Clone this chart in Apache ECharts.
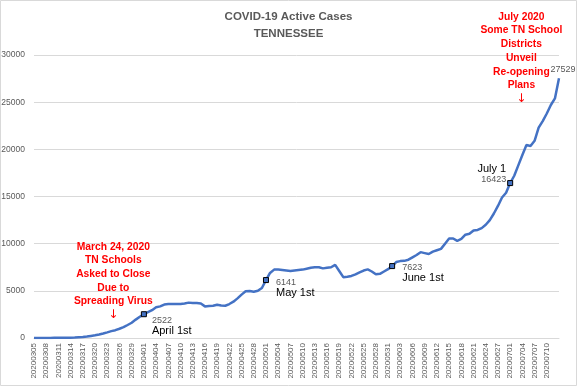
<!DOCTYPE html>
<html>
<head>
<meta charset="utf-8">
<script src="https://cdn.jsdelivr.net/npm/echarts@6/dist/echarts.min.js"></script>
<style>html,body{margin:0;padding:0;background:#fff}#c{width:577px;height:386px}</style>
</head>
<body>
<div id="c"></div>
<script>
const titleLines = ['COVID-19 Active Cases', 'TENNESSEE'];
const dates = [
 '20200305','20200306','20200307','20200308','20200309','20200310','20200311','20200312','20200313','20200314',
 '20200315','20200316','20200317','20200318','20200319','20200320','20200321','20200322','20200323','20200324',
 '20200325','20200326','20200327','20200328','20200329','20200330','20200331',
 '20200401','20200402','20200403','20200404','20200405','20200406','20200407','20200408','20200409','20200410',
 '20200411','20200412','20200413','20200414','20200415','20200416','20200417','20200418','20200419','20200420',
 '20200421','20200422','20200423','20200424','20200425','20200426','20200427','20200428','20200429','20200430',
 '20200501','20200502','20200503','20200504','20200505','20200506','20200507','20200508','20200509','20200510',
 '20200511','20200512','20200513','20200514','20200515','20200516','20200517','20200518','20200519','20200520',
 '20200521','20200522','20200523','20200524','20200525','20200526','20200527','20200528','20200529','20200530','20200531',
 '20200601','20200602','20200603','20200604','20200605','20200606','20200607','20200608','20200609','20200610',
 '20200611','20200612','20200613','20200614','20200615','20200616','20200617','20200618','20200619','20200620',
 '20200621','20200622','20200623','20200624','20200625','20200626','20200627','20200628','20200629',
 '20200701','20200702','20200703','20200704','20200705','20200706','20200707','20200708','20200709','20200710',
 '20200711','20200712','20200713'
];
const activeCases = [
 1,1,3,7,9,18,25,26,32,38,
 51,73,95,150,220,290,380,480,600,730,
 830,980,1150,1380,1620,1950,2250,
 2522,2750,2950,3250,3350,3550,3600,3600,3600,3600,
 3650,3750,3720,3700,3650,3350,3400,3420,3520,3450,
 3420,3600,3850,4200,4600,4950,4980,4900,5000,5300,
 6141,6900,7250,7250,7200,7150,7100,7150,7200,7250,
 7350,7450,7500,7500,7380,7450,7500,7750,7100,6450,
 6500,6580,6750,6950,7150,7270,7050,6750,6800,7050,7300,
 7623,8050,8150,8180,8300,8550,8800,9100,9000,8900,
 9150,9300,9450,10000,10550,10550,10300,10500,10950,11050,
 11400,11450,11650,12000,12500,13200,14000,14900,15400,
 16423,17200,18300,19400,20450,20350,20900,22300,23000,23800,
 24700,25400,27529
];
const yTicks = [0, 5000, 10000, 15000, 20000, 25000, 30000];
const milestoneDates = ['20200401', '20200501', '20200601', '20200701'];
const milestoneNames = ['April 1st', 'May 1st', 'June 1st', 'July 1'];
const note1 = ['March 24, 2020', 'TN Schools', 'Asked to Close', 'Due to', 'Spreading Virus'];
const note1Date = '20200324';
const note2 = ['July 2020', 'Some TN School', 'Districts', 'Unveil', 'Re-opening', 'Plans'];
const note2Date = '20200704';
const ARROW = '\u2193';

const FONT = 'Liberation Sans, Arial, sans-serif';
const GRAY = '#595959';

const chart = echarts.init(document.getElementById('c'), null, {renderer: 'canvas'});

const richNum = {
  v: {fontSize: 9, color: GRAY, fontFamily: FONT, lineHeight: 10},
  d: {fontSize: 11, color: '#000', fontFamily: FONT, lineHeight: 11}
};
const mpStyle = {color: '#4472C4', borderColor: '#000', borderWidth: 1};

function milestone(i, pos, offset, dist, topName) {
  const idx = dates.indexOf(milestoneDates[i]);
  const val = activeCases[idx];
  return {
    coord: [idx, val],
    symbol: 'rect', symbolSize: 5, itemStyle: mpStyle,
    label: {
      show: true, position: pos, distance: dist, offset: offset,
      align: pos === 'left' ? 'right' : 'left',
      formatter: topName ? '{d|' + milestoneNames[i] + '}\n{v|' + val + '}'
                         : '{v|' + val + '}\n{d|' + milestoneNames[i] + '}',
      rich: richNum
    }
  };
}

const redRich = {
  r: {fontSize: 10.3, fontWeight: 'bold', color: '#FF0000', fontFamily: FONT, lineHeight: 13.7, align: 'center'},
  a: {fontSize: 12, fontWeight: 'normal', color: '#FF0000', fontFamily: 'DejaVu Sans, sans-serif', lineHeight: 13.7, align: 'center'}
};
function noteText(lines) {
  return lines.map(s => '{r|' + s + '}').join('\n') + '\n{a|' + ARROW + '}';
}
const lastIdx = activeCases.length - 1;

const option = {
  animation: false,
  backgroundColor: '#fff',
  title: {
    text: titleLines.join('\n'),
    left: 'center', top: 3,
    textStyle: {fontSize: 11.5, fontWeight: 'bold', color: GRAY, fontFamily: FONT, lineHeight: 17}
  },
  grid: {left: 34, right: 18, top: 55, bottom: 48, containLabel: false, outerBoundsMode: 'none'},
  xAxis: {
    type: 'category', data: dates, boundaryGap: false,
    axisLine: {show: true, lineStyle: {color: '#d9d9d9', width: 1}},
    axisTick: {show: false},
    axisLabel: {interval: 2, rotate: 90, fontSize: 8, color: GRAY, fontFamily: FONT, margin: 5, showMaxLabel: false},
    splitLine: {show: false}
  },
  yAxis: {
    type: 'value', min: yTicks[0], max: yTicks[yTicks.length - 1], interval: yTicks[1] - yTicks[0],
    axisLine: {show: false}, axisTick: {show: false},
    axisLabel: {fontSize: 8.5, color: GRAY, fontFamily: FONT, margin: 9, formatter: v => String(v)},
    splitLine: {lineStyle: {color: '#d9d9d9', width: 1}}
  },
  graphic: [{
    type: 'rect', silent: true, z: 100,
    shape: {x: 0.5, y: 0.5, width: 576, height: 385},
    style: {fill: 'none', stroke: '#d9d9d9', lineWidth: 1}
  }],
  series: [{
    type: 'line', data: activeCases, symbol: 'none', showSymbol: false, smooth: false,
    lineStyle: {color: '#4472C4', width: 2.5}, itemStyle: {color: '#4472C4'},
    markPoint: {
      silent: true, animation: false,
      data: [
        milestone(0, 'right', [0, 12], 5, false),
        milestone(1, 'right', [0, 8], 7, false),
        milestone(2, 'right', [0, 6.5], 7, false),
        milestone(3, 'left', [0, -9], 1, true),
        {
          coord: [lastIdx, activeCases[lastIdx]], symbol: 'circle', symbolSize: 0,
          label: {show: true, position: 'top', distance: 4, offset: [4, 0],
                  formatter: String(activeCases[lastIdx]), fontSize: 9, color: GRAY, fontFamily: FONT}
        },
        {
          coord: [dates.indexOf(note1Date), activeCases[dates.indexOf(note1Date)]], symbol: 'circle', symbolSize: 0,
          label: {show: true, position: 'top', distance: 9, offset: [2, 0],
                  formatter: noteText(note1), rich: redRich}
        },
        {
          coord: [dates.indexOf(note2Date), 24600], symbol: 'circle', symbolSize: 0,
          label: {show: true, position: 'top', distance: 0, offset: [-1, 0],
                  formatter: noteText(note2), rich: redRich}
        }
      ]
    }
  }]
};
chart.setOption(option);
</script>
</body>
</html>
